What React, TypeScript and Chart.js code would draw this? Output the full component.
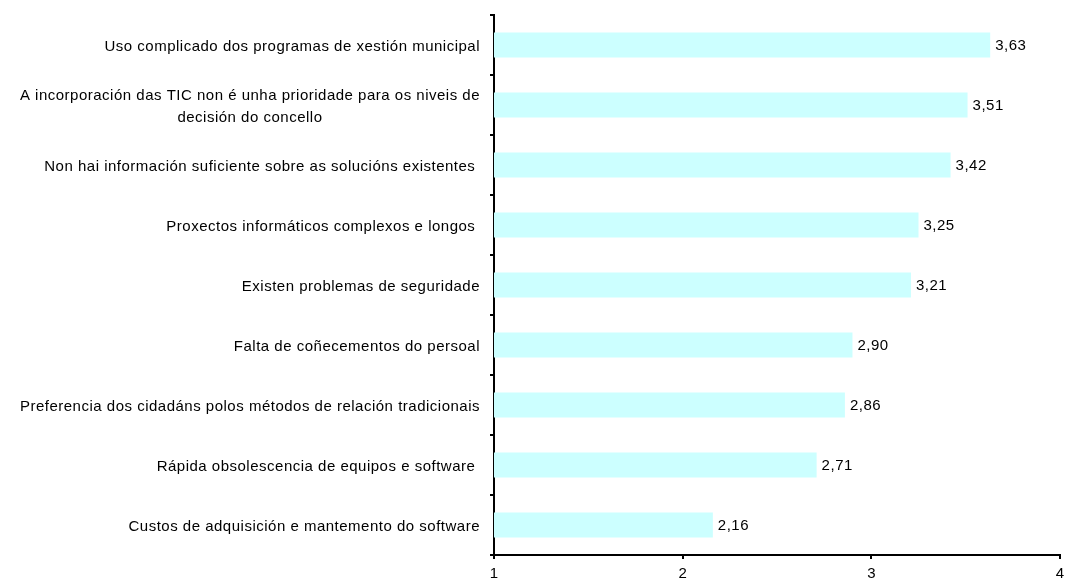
import React, { useEffect, useRef } from "react";
import { Chart, registerables } from "chart.js";

Chart.register(...registerables);

const categories: (string | string[])[] = [
  "Uso complicado dos programas de xestión municipal",
  ["A incorporación das TIC non é unha prioridade para os niveis de", "decisión do concello"],
  "Non hai información suficiente sobre as solucións existentes ",
  "Proxectos informáticos complexos e longos ",
  "Existen problemas de seguridade",
  "Falta de coñecementos do persoal",
  "Preferencia dos cidadáns polos métodos de relación tradicionais",
  "Rápida obsolescencia de equipos e software ",
  "Custos de adquisición e mantemento do software",
];

const values: number[] = [3.63, 3.51, 3.42, 3.25, 3.21, 2.9, 2.86, 2.71, 2.16];

const xTicks: number[] = [1, 2, 3, 4];

const FONT = '"Liberation Sans", Arial, sans-serif';

const labelsPlugin = {
  id: "customLabels",
  afterDatasetsDraw(chart: any) {
    const ctx = chart.ctx;
    const yScale = chart.scales.y;
    const meta = chart.getDatasetMeta(0);
    ctx.save();
    ctx.font = `15px ${FONT}`;
    (ctx as any).letterSpacing = "0.5px";
    ctx.fillStyle = "#000";
    ctx.textBaseline = "middle";
    categories.forEach((lab, i) => {
      const lines = Array.isArray(lab) ? lab : [lab];
      const widths = lines.map((l) => ctx.measureText(l).width);
      const blockW = Math.max(...widths);
      const right = yScale.left + yScale.width - 14;
      const cx = right - blockW / 2;
      const cy = yScale.getPixelForValue(i) + 2;
      const lh = 22;
      ctx.textAlign = "center";
      lines.forEach((l, j) => {
        ctx.fillText(l, cx, cy + (j - (lines.length - 1) / 2) * lh);
      });
    });
    ctx.textAlign = "left";
    meta.data.forEach((bar: any, i: number) => {
      const txt = values[i].toFixed(2).replace(".", ",");
      ctx.fillText(txt, bar.x + 5, bar.y + 1);
    });
    ctx.restore();
  },
};

export default function App() {
  const ref = useRef<HTMLCanvasElement>(null);
  useEffect(() => {
    if (!ref.current) return;
    const chart = new Chart(ref.current, {
      type: "bar",
      data: {
        labels: categories as any,
        datasets: [
          {
            data: values,
            backgroundColor: "#CCFFFF",
            borderWidth: 0,
            barPercentage: 0.42,
            categoryPercentage: 1,
          },
        ],
      },
      plugins: [labelsPlugin],
      options: {
        indexAxis: "y",
        animation: false,
        responsive: false,
        maintainAspectRatio: false,
        layout: { padding: { top: 15, right: 5, left: 0, bottom: 0 } },
        plugins: {
          legend: { display: false },
          tooltip: { enabled: false },
        },
        scales: {
          x: {
            type: "linear",
            min: 1,
            max: 4,
            afterBuildTicks: (s: any) => {
              s.ticks = xTicks.map((v) => ({ value: v }));
            },
            afterFit: (s: any) => {
              s.height = 26;
              s.paddingLeft = 0;
              s.paddingRight = 0;
            },
            grid: {
              drawOnChartArea: false,
              drawTicks: true,
              tickLength: 4,
              color: "#000",
              lineWidth: 2,
            },
            border: { display: true, color: "#000", width: 2 },
            ticks: {
              color: "#000",
              font: { family: FONT, size: 15 },
              padding: 6,
              maxRotation: 0,
              autoSkip: false,
            },
          },
          y: {
            type: "category",
            afterFit: (s: any) => {
              s.width = 494;
              s.paddingTop = 0;
              s.paddingBottom = 0;
            },
            grid: {
              drawOnChartArea: false,
              drawTicks: true,
              tickLength: 4,
              color: "#000",
              lineWidth: 2,
            },
            border: { display: true, color: "#000", width: 2 },
            ticks: { display: false },
          },
        },
      },
    });
    return () => chart.destroy();
  }, []);
  return (
    <div style={{ position: "fixed", left: 0, top: 0, width: 1065, height: 581, background: "#fff" }}>
      <canvas ref={ref} width={1065} height={581} style={{ display: "block" }} />
    </div>
  );
}
